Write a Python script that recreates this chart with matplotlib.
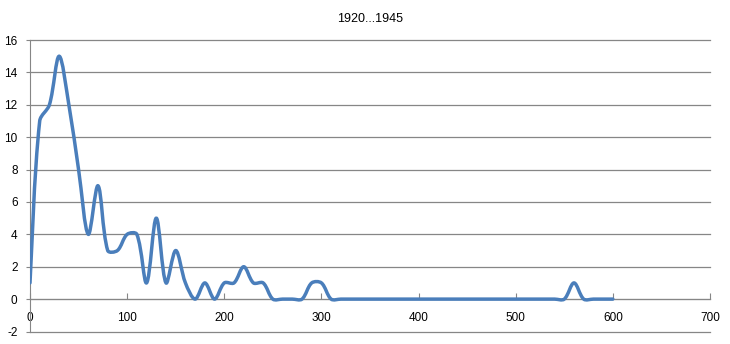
import numpy as np
import matplotlib
matplotlib.use("Agg")
import matplotlib.pyplot as plt
from matplotlib.path import Path
from matplotlib.patches import PathPatch

plt.rcParams["axes.unicode_minus"] = False
plt.rcParams["font.family"] = ["Liberation Sans", "DejaVu Sans"]

x_vals = list(range(0, 610, 10))
y_vals = [1, 11, 12, 15, 12, 8, 4, 7, 3, 3,
          4, 4, 1, 5, 1, 3, 1, 0, 1, 0,
          1, 1, 2, 1, 1, 0, 0, 0, 0, 1,
          1, 0, 0, 0, 0, 0, 0, 0, 0, 0,
          0, 0, 0, 0, 0, 0, 0, 0, 0, 0,
          0, 0, 0, 0, 0, 0, 1, 0, 0, 0,
          0]

title = "1920...1945"
x_ticks = [0, 100, 200, 300, 400, 500, 600, 700]
y_ticks = [-2, 0, 2, 4, 6, 8, 10, 12, 14, 16]

W, H = 730, 344
fig = plt.figure(figsize=(W / 100, H / 100), dpi=100)
ax = fig.add_axes([30 / W, (H - 331.5) / H, 680 / W, (331.5 - 40) / H])
ax.set_xlim(0, 700)
ax.set_ylim(-2, 16)

# Excel-like smoothed line, computed in display space
fig.canvas.draw()
P = ax.transData.transform(np.column_stack([x_vals, y_vals]).astype(float))
n = len(P)
verts = [P[0]]
codes = [Path.MOVETO]

def ctrl(i):
    if i == 0 or i == n - 1:
        return np.zeros(2), np.zeros(2)
    T = P[i + 1] - P[i - 1]
    dp = np.linalg.norm(P[i] - P[i - 1])
    dn = np.linalg.norm(P[i + 1] - P[i])
    s = dp + dn
    if s == 0:
        return np.zeros(2), np.zeros(2)
    return -T * dp / s / 3.0, T * dn / s / 3.0

for i in range(n - 1):
    _, out1 = ctrl(i)
    in2, _ = ctrl(i + 1)
    if i == 0:
        out1 = (P[1] - P[0]) / 6.0
    c1 = P[i] + out1
    c2 = P[i + 1] + in2
    verts += [c1, c2, P[i + 1]]
    codes += [Path.CURVE4] * 3
verts = ax.transData.inverted().transform(np.array(verts))
patch = PathPatch(Path(verts, codes), facecolor="none", edgecolor="#4A7EBB",
                  linewidth=2.5, capstyle="round", joinstyle="round", zorder=3)
ax.add_patch(patch)

ax.set_xticks(x_ticks)
ax.set_yticks(y_ticks)
ax.grid(axis="y", color="#868686", linewidth=0.9)
for gl in ax.get_ygridlines():
    gl.set_clip_on(False)
ax.set_axisbelow(True)
for s in ["top", "right"]:
    ax.spines[s].set_visible(False)
ax.spines["bottom"].set_position(("data", 0))
ax.spines["bottom"].set_color("#868686")
ax.spines["left"].set_color("#868686")
ax.tick_params(axis="x", direction="in", length=4, color="#868686", pad=9.5,
               labelsize=8.5)
ax.tick_params(axis="y", direction="out", length=3, color="#868686", pad=6,
               labelsize=8.5)
ax.set_title(title, fontsize=9, pad=13)
fig.savefig("out.png", dpi=100)
